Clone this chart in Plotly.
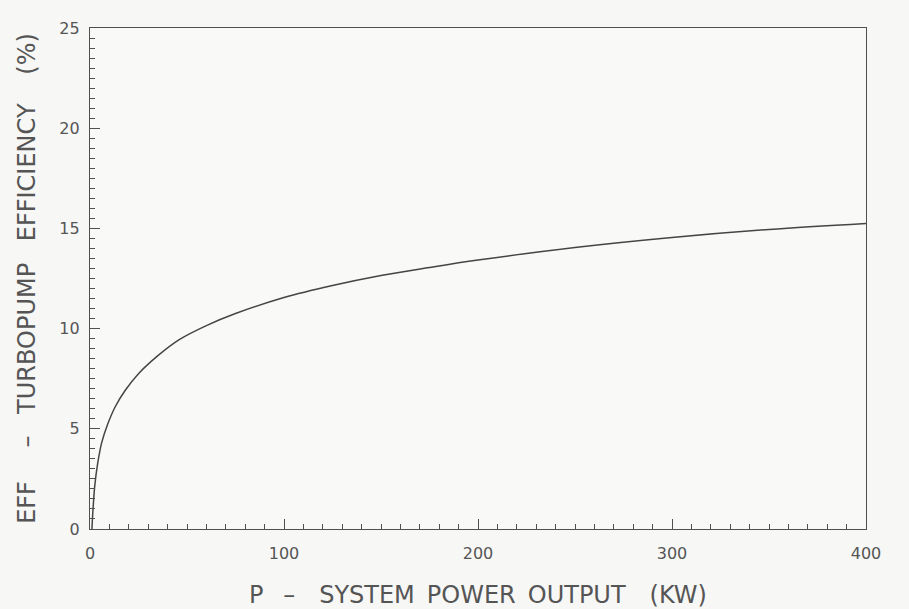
import plotly.graph_objects as go

P_KW = [1, 1.5, 2.5, 4, 6, 9, 13, 18, 25, 35, 46, 60, 75, 100, 125, 150, 175, 200, 250, 300, 350, 400]
EFF = [0, 0.9, 2.2, 3.3, 4.3, 5.2, 6.1, 6.9, 7.75, 8.65, 9.45, 10.15, 10.75, 11.55, 12.15, 12.65, 13.05, 13.42, 14.05, 14.55, 14.95, 15.25]

x_ticks = [0, 100, 200, 300, 400]
y_ticks = [0, 5, 10, 15, 20, 25]

EM, EN, NB, TH = "\u2003", "\u2002", "\u00a0", "\u2009"
x_title = f"P{EN}{NB}\u2013{EM}SYSTEM{EN}POWER{EN}OUTPUT{EM}(KW)"
y_title = f"EFF{EM}{TH}{TH}\u2013{EN}{TH}{TH}TURBOPUMP{EN}{TH}{TH}EFFICIENCY{EM}{TH}(%)"

fig = go.Figure()
fig.add_trace(go.Scatter(x=P_KW, y=EFF, mode="lines",
                         line=dict(color="#454545", width=1.5, shape="spline", smoothing=1.0),
                         showlegend=False, hoverinfo="skip"))

font_family = "DejaVu Sans"
txt = "#555555"
axis_common = dict(showline=True, linecolor="#505050", linewidth=1.3, mirror=True,
                   showgrid=False, zeroline=False, ticks="inside", tickcolor="#505050",
                   tickwidth=1.3, ticklen=10, automargin=False,
                   tickfont=dict(family=font_family, size=16, color=txt))

fig.update_layout(
    width=909, height=609,
    margin=dict(l=90, r=43, t=28, b=80),
    paper_bgcolor="#f7f7f5", plot_bgcolor="#f9f9f7",
    xaxis=dict(range=[0, 400], tickvals=x_ticks, ticktext=[str(v) for v in x_ticks],
               ticklabelstandoff=10,
               minor=dict(dtick=10, ticks="inside", ticklen=5, tickcolor="#505050", tickwidth=1.2),
               title=dict(text=x_title, font=dict(family=font_family, size=24, color=txt), standoff=30),
               **axis_common),
    yaxis=dict(range=[0, 25], tickvals=y_ticks, ticktext=[str(v) for v in y_ticks],
               ticklabelstandoff=6,
               minor=dict(dtick=0.5, ticks="inside", ticklen=5, tickcolor="#505050", tickwidth=1.2),
               title=dict(text=y_title, font=dict(family=font_family, size=24, color=txt), standoff=16),
               **axis_common),
)

fig.write_html("out.html")
